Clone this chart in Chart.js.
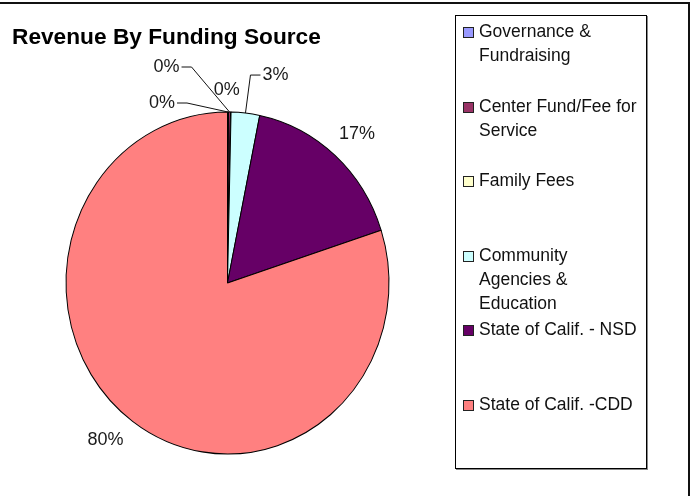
<!DOCTYPE html>
<html>
<head>
<meta charset="utf-8">
<script src="https://cdn.jsdelivr.net/npm/chart.js@4/dist/chart.umd.min.js"></script>
<style>
  body { margin: 0; background: #fff; }
  #wrap { position: relative; width: 692px; height: 496px; overflow: hidden; font-family: "Liberation Sans", Arial, sans-serif; }
  #frame { position: absolute; left: -10px; top: 2px; width: 698px; height: 520px; border-top: 2px solid #111; border-right: 2px solid #111; }
  #chart { position: absolute; left: 0; top: 0; }
  #title { position: absolute; left: 12px; top: 25px; font-size: 22.7px; line-height: 23px; font-weight: bold; color: #000; white-space: nowrap; }
  #legend { position: absolute; left: 455px; top: 15px; width: 190px; height: 452px; border: 1px solid #000; box-shadow: 1px 1px 0 #888; background: #fff; }
  .item { position: absolute; left: 0; width: 190px; }
  .sw { position: absolute; left: 7px; top: 8px; width: 9px; height: 9px; border: 1px solid #222; }
  .txt { position: absolute; left: 23px; top: 0; font-size: 17.5px; line-height: 24px; color: #111; white-space: pre; }
</style>
</head>
<body>
<div id="wrap">
  <div id="frame"></div>
  <canvas id="chart" width="692" height="496"></canvas>
  <div id="title">Revenue By Funding Source</div>
  <div id="legend"></div>
</div>
<script>
// categories (legend text, with the line breaks of the original legend)
var labels = [
    "Governance &\nFundraising",
    "Center Fund/Fee for\nService",
    "Family Fees",
    "Community\nAgencies &\nEducation",
    "State of Calif. - NSD",
    "State of Calif. -CDD"
];
// share of revenue, percent
var values = [0.1, 0.2, 0.05, 2.85, 16.8, 80.0];
var colors = ["#9999FF", "#993366", "#FFFFCC", "#CCFFFF", "#660066", "#FF8080"];

// data label placement, relative to the slice edge
var labelOffsets = [[-66, -9], [-63, -45], [-4, -22], [30, -38], [22, -21], [-27, 19]];
var leaderSide = ["right", "right", null, "left", null, null];

var stretch = 171 / 161.5; // the pie in the picture is a bit taller than wide

function buildLegend() {
    var box = document.getElementById("legend");
    for (var i = 0; i < labels.length; i++) {
        var item = document.createElement("div");
        item.className = "item";
        item.style.top = (3 + i * 74.6) + "px";
        var sw = document.createElement("div");
        sw.className = "sw";
        sw.style.background = colors[i];
        var txt = document.createElement("div");
        txt.className = "txt";
        txt.textContent = labels[i];
        item.appendChild(sw);
        item.appendChild(txt);
        box.appendChild(item);
    }
}

var stretchPlugin = {
    id: "stretch",
    beforeDatasetsDraw: function (chart) {
        var a = chart.getDatasetMeta(0).data[0];
        var ctx = chart.ctx;
        ctx.save();
        ctx.translate(a.x, a.y);
        ctx.scale(1, stretch);
        ctx.translate(-a.x, -a.y);
    },
    afterDatasetsDraw: function (chart) {
        chart.ctx.restore();
    }
};

var labelPlugin = {
    id: "pctLabels",
    afterDraw: function (chart) {
        var ctx = chart.ctx;
        var arcs = chart.getDatasetMeta(0).data;
        var total = values.reduce(function (s, v) { return s + v; }, 0);
        ctx.save();
        ctx.font = '18px "Liberation Sans", Arial, sans-serif';
        ctx.fillStyle = "#1a1a1a";
        ctx.strokeStyle = "#111";
        ctx.lineWidth = 1;
        ctx.textAlign = "center";
        ctx.textBaseline = "middle";
        arcs.forEach(function (arc, i) {
            var p = arc.getProps(["x", "y", "startAngle", "endAngle", "outerRadius"], true);
            var mid = (p.startAngle + p.endAngle) / 2;
            var ex = p.x + p.outerRadius * Math.cos(mid);
            var ey = p.y + p.outerRadius * Math.sin(mid) * stretch;
            var lx = ex + labelOffsets[i][0];
            var ly = ey + labelOffsets[i][1];
            var text = Math.round(values[i] / total * 100) + "%";
            var w = ctx.measureText(text).width;
            if (leaderSide[i]) {
                var dir = leaderSide[i] === "right" ? 1 : -1;
                var sx = lx + dir * (w / 2 + 2);
                ctx.beginPath();
                ctx.moveTo(sx, ly);
                ctx.lineTo(sx + dir * 10, ly);
                ctx.lineTo(ex, ey);
                ctx.stroke();
            }
            ctx.fillText(text, lx, ly);
        });
        ctx.restore();
    }
};

buildLegend();

new Chart(document.getElementById("chart"), {
    type: "pie",
    data: {
        labels: labels,
        datasets: [{
            data: values,
            backgroundColor: colors,
            borderColor: "#000",
            borderWidth: 1
        }]
    },
    options: {
        responsive: false,
        animation: false,
        layout: { padding: { left: 65.5, right: 302.5, top: 121, bottom: 51 } },
        plugins: {
            legend: { display: false },
            tooltip: { enabled: false },
            title: { display: false }
        }
    },
    plugins: [stretchPlugin, labelPlugin]
});
</script>
</body>
</html>
